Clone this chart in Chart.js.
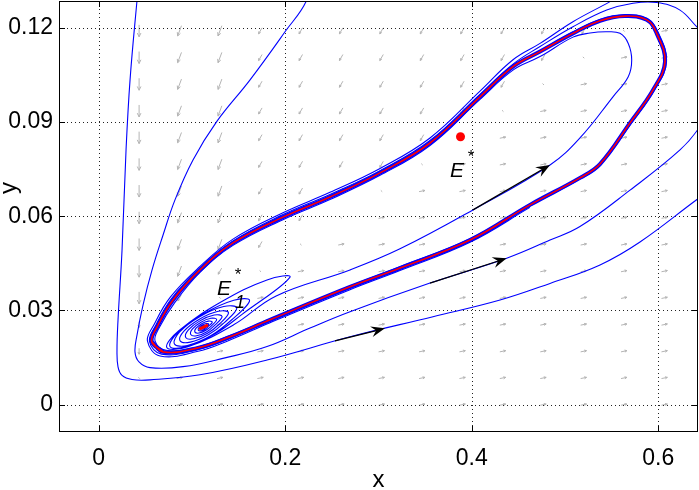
<!DOCTYPE html>
<html>
<head>
<meta charset="utf-8">
<script src="https://cdn.jsdelivr.net/npm/chart.js@4.4.0/dist/chart.umd.min.js"></script>
<style>html,body{margin:0;padding:0;background:#fff}</style>
</head>
<body>
<canvas id="phaseChart" width="699" height="490"></canvas>
<script>
// axes
const xTicks = [0, 0.2, 0.4, 0.6];
const xTickLabels = ['0', '0.2', '0.4', '0.6'];
const yTicks = [0, 0.03, 0.06, 0.09, 0.12];
const yTickLabels = ['0', '0.03', '0.06', '0.09', '0.12'];

// equilibria
const eqStar = [0.388, 0.0853];
const eqOne = [[0.1076, 0.0240], [0.1172, 0.0254]];

// red limit cycle (closed, first points repeated)
const limitCycle = [
  [0.0568,0.0201],[0.0690,0.0168],[0.1054,0.0180],[0.1408,0.0216],[0.1837,0.0270],[0.2695,0.0375],
  [0.3231,0.0435],[0.3982,0.0524],[0.4625,0.0636],[0.5161,0.0722],[0.5376,0.0766],[0.5698,0.0897],
  [0.5945,0.1002],[0.6073,0.1091],[0.5984,0.1182],[0.5877,0.1225],[0.5644,0.1237],[0.5376,0.1222],
  [0.5086,0.1182],[0.4733,0.1124],[0.4443,0.1076],[0.4089,0.0980],[0.3553,0.0833],[0.3017,0.0738],
  [0.2480,0.0661],[0.1976,0.0597],[0.1440,0.0515],[0.1086,0.0429],[0.0797,0.0333],[0.0625,0.0247],
  [0.0568,0.0201],[0.0690,0.0168]
];

// orbit leaving E1*: spiral turns
const spiral = [
  [0.1152,0.02515],[0.1138,0.02530],[0.1116,0.02508],[0.1099,0.02462],[0.1096,0.02419],[0.1110,0.02404],[0.1132,0.02426],[0.1149,0.02472],
  [0.1180,0.02562],[0.1154,0.02585],[0.1110,0.02539],[0.1075,0.02451],[0.1068,0.02372],[0.1095,0.02349],[0.1138,0.02395],[0.1173,0.02483],
  [0.1218,0.02628],[0.1176,0.02659],[0.1104,0.02579],[0.1044,0.02435],[0.1032,0.02310],[0.1075,0.02279],[0.1146,0.02359],[0.1206,0.02503],
  [0.1265,0.02710],[0.1203,0.02749],[0.1096,0.02626],[0.1006,0.02411],[0.0987,0.02232],[0.1049,0.02193],[0.1156,0.02316],[0.1246,0.02531],
  [0.1323,0.02808],[0.1238,0.02852],[0.1089,0.02675],[0.0962,0.02380],[0.0933,0.02140],[0.1018,0.02096],[0.1167,0.02273],[0.1294,0.02568],
  [0.1392,0.02927],[0.1282,0.02973],[0.1084,0.02730],[0.0914,0.02343],[0.0872,0.02037],[0.0982,0.01991],[0.1180,0.02234],[0.1350,0.02621],
  [0.1481,0.03077],[0.1341,0.03125],[0.1087,0.02809],[0.0868,0.02315],[0.0812,0.01933],[0.0951,0.01885],[0.1205,0.02201],[0.1424,0.02695],
  [0.1618,0.03314],[0.1449,0.03324],[0.1129,0.02900],[0.0845,0.02290],[0.0764,0.01852],[0.0932,0.01842],[0.1253,0.02266],[0.1537,0.02876],
  [0.2050,0.04053],[0.1805,0.03971],[0.1311,0.03267],[0.0859,0.02353],[0.0730,0.01820],[0.0957,0.01845],[0.1451,0.02549],[0.1903,0.03463]
];
// same orbit, outer laps inside the limit cycle
const innerOrbit = [
  [0.2695,0.0429],[0.3231,0.0496],[0.4014,0.0620],[0.4840,0.0763],[0.5161,0.0849],[0.5515,0.0980],
  [0.5679,0.1044],[0.5716,0.1097],[0.5679,0.1150],[0.5590,0.1182],[0.5448,0.1187],[0.5269,0.1183],
  [0.5086,0.1170],[0.4733,0.1108],[0.4443,0.1065],[0.4089,0.0972],[0.3553,0.0825],[0.3017,0.0730],
  [0.2480,0.0653],[0.1976,0.0589],[0.1440,0.0507],[0.1086,0.0421],[0.0813,0.0324],[0.0647,0.0244],
  [0.0604,0.0203],[0.0722,0.0173],[0.1054,0.0183],[0.1408,0.0220],[0.1837,0.0273],[0.2695,0.0378],
  [0.3231,0.0439],[0.3982,0.0528],[0.4625,0.0639]
];

// orbit entering from the top (second arrow)
const orbitE = [
  [0.2266,0.1368],[0.2231,0.1288],[0.1998,0.1187],[0.1623,0.1034],[0.1265,0.0901],[0.1011,0.0779],
  [0.0818,0.0652],[0.0690,0.0540],[0.0572,0.0429],[0.0475,0.0317],[0.0411,0.0222],[0.0389,0.0168],
  [0.0432,0.0136],[0.0550,0.0118],[0.0904,0.0121],[0.1354,0.0149],[0.1805,0.0185],[0.2266,0.0244],
  [0.2695,0.0296],[0.3553,0.0387],[0.4375,0.0466],[0.4840,0.0524],[0.5161,0.0567],[0.5698,0.0683],
  [0.6234,0.0811],[0.6438,0.0881],[0.6641,0.0986],[0.6684,0.1097],[0.6577,0.1167],[0.6438,0.1196],
  [0.6234,0.1256],[0.5984,0.1280],[0.5730,0.1278],[0.5448,0.1256],[0.5086,0.1203],[0.4733,0.1140],
  [0.4443,0.1084],[0.4089,0.0988],[0.3553,0.0841],[0.3017,0.0745],[0.2480,0.0669],[0.1976,0.0605],
  [0.1440,0.0521],[0.1086,0.0435],[0.0781,0.0338],[0.0609,0.0251],[0.0545,0.0201],[0.0673,0.0161],
  [0.1054,0.0174],[0.1408,0.0211],[0.1837,0.0265],[0.2695,0.0370],[0.3231,0.0431],[0.3982,0.0520],
  [0.4625,0.0632],[0.5161,0.0718],[0.5376,0.0762],[0.5714,0.0897],[0.5960,0.1002],[0.6089,0.1091],
  [0.5998,0.1186],[0.5880,0.1229],[0.5644,0.1241],[0.5376,0.1226],[0.5086,0.1186],[0.4733,0.1127],
  [0.4443,0.1079],[0.4089,0.0983]
];

// outermost orbit (first arrow)
const orbitD = [
  [0.0443,0.1384],[0.0411,0.1288],[0.0336,0.1034],[0.0293,0.0811],[0.0250,0.0492],[0.0207,0.0270],
  [0.0196,0.0174],[0.0207,0.0120],[0.0250,0.0093],[0.0357,0.0080],[0.0550,0.0079],[0.1086,0.0095],
  [0.1805,0.0142],[0.2695,0.0216],[0.3585,0.0280],[0.4304,0.0333],[0.4840,0.0386],[0.5376,0.0445],
  [0.5805,0.0518],[0.6438,0.0658],[0.6717,0.0715],[0.6931,0.0874],[0.6963,0.1129],[0.6770,0.1288],
  [0.6448,0.1368],[0.5912,0.1358],[0.5612,0.1307],[0.5483,0.1283],[0.5086,0.1219],[0.4733,0.1150],
  [0.4443,0.1098],[0.4089,0.0998],[0.3553,0.0849],[0.3017,0.0752],[0.2480,0.0676],[0.1976,0.0611],
  [0.1440,0.0527],[0.1086,0.0440],[0.0770,0.0343],[0.0588,0.0252],[0.0523,0.0202],[0.0657,0.0155],
  [0.1054,0.0169],[0.1408,0.0206],[0.1837,0.0261],[0.2695,0.0366],[0.3231,0.0427],[0.3982,0.0517],
  [0.4625,0.0628]
];

// black direction arrows: [tail, tip]
const flowArrows = [
  [[0.2534,0.0203],[0.3070,0.0243]],
  [[0.3553,0.0387],[0.4375,0.0466]],
  [[0.4014,0.0620],[0.4840,0.0763]]
];

// direction field grid (rows top to bottom); D/d down, L/l down-left, r right, . tiny
const fieldX = [0.0433,0.0867,0.1300,0.1733,0.2167,0.2600,0.3033,0.3467,0.3900,0.4333,0.4767,0.5200,0.5633,0.6067];
const fieldY = [0.1190,0.1105,0.1020,0.0935,0.0850,0.0765,0.0680,0.0595,0.0510,0.0425,0.0340,0.0255,0.0170,0.0085,0];
const fieldDir = [
  'DLLlllllllll.r',
  'DLLllllllll.rr',
  'DLLlllllll.rrr',
  'DLLllllll.rrrr',
  'DLLlllll.rrrrr',
  'DLLllll.rrrrrr',
  'DLLlll.rrrrrrr',
  'DLLll.rrrrrrrr',
  'DLLl.rrrrrrrrr',
  'DLl.rrrrrrrrrr',
  'Dl.rrrrrrrrrrr',
  'd.rrrrrrrrrrrr',
  'drrrrrrrrrrrrr',
  '.rrrrrrrrrrrrr',
  '.rrrrrrrrrrrrr'
];

const pointLabels = [
  {at: [0.3767, 0.0725], sub: ''},
  {at: [0.1269, 0.0349], sub: '1'}
];

const toPts = arr => arr.map(p => ({x: p[0], y: p[1]}));
const font = "'Liberation Sans', Arial, sans-serif";

function curve(data, color, width, order) {
  return {
    data: toPts(data), showLine: true, borderColor: color, borderWidth: width,
    pointRadius: 0, tension: 0.4, order: order, fill: false
  };
}

const arrowStyle = {
  D: [0, 1, 12], d: [0, 1, 6], L: [-0.35, 0.94, 11], l: [-0.5, 0.87, 7],
  r: [1, -0.2, 6], '.': [0.7, 0.7, 2]
};

function drawHead(ctx, x0, y0, x1, y1, len, half, back) {
  const a = Math.atan2(y1 - y0, x1 - x0), c = Math.cos(a), s = Math.sin(a);
  ctx.beginPath();
  ctx.moveTo(x1, y1);
  ctx.lineTo(x1 - len * c + half * s, y1 - len * s - half * c);
  ctx.lineTo(x1 - back * len * c, y1 - back * len * s);
  ctx.lineTo(x1 - len * c - half * s, y1 - len * s + half * c);
  ctx.closePath();
  ctx.fill();
}

const decor = {
  id: 'decor',
  beforeDatasetsDraw(chart) {
    const {ctx, chartArea: a, scales: {x, y}} = chart;
    ctx.save();
    // direction field
    ctx.strokeStyle = '#b4b4b4';
    ctx.lineWidth = 1;
    fieldY.forEach((fy, r) => {
      fieldX.forEach((fx, c) => {
        const st = arrowStyle[fieldDir[r][c]];
        if (!st) return;
        const n = Math.hypot(st[0], st[1]);
        const ux = st[0] / n, uy = st[1] / n, len = st[2];
        const cx = x.getPixelForValue(fx), cy = y.getPixelForValue(fy);
        const x0 = cx - ux * len / 2, y0 = cy - uy * len / 2;
        const x1 = cx + ux * len / 2, y1 = cy + uy * len / 2;
        ctx.beginPath();
        ctx.moveTo(x0, y0); ctx.lineTo(x1, y1);
        if (len > 3) {
          const h = Math.max(2.5, len * 0.35), ang = Math.atan2(uy, ux);
          ctx.moveTo(x1, y1);
          ctx.lineTo(x1 - h * Math.cos(ang - 0.45), y1 - h * Math.sin(ang - 0.45));
          ctx.moveTo(x1, y1);
          ctx.lineTo(x1 - h * Math.cos(ang + 0.45), y1 - h * Math.sin(ang + 0.45));
        }
        ctx.stroke();
      });
    });
    // dotted grid
    ctx.strokeStyle = '#222';
    ctx.setLineDash([1, 3]);
    ctx.beginPath();
    xTicks.forEach(v => {
      const p = Math.round(x.getPixelForValue(v)) + 0.5;
      ctx.moveTo(p, a.top); ctx.lineTo(p, a.bottom);
    });
    yTicks.forEach(v => {
      const p = Math.round(y.getPixelForValue(v)) + 0.5;
      ctx.moveTo(a.left, p); ctx.lineTo(a.right, p);
    });
    ctx.stroke();
    ctx.restore();
  },
  afterDatasetsDraw(chart) {
    const {ctx, chartArea: a, scales: {x, y}} = chart;
    ctx.save();
    // flow arrows
    ctx.strokeStyle = '#000';
    ctx.fillStyle = '#000';
    ctx.lineWidth = 1.3;
    flowArrows.forEach(([t, h]) => {
      const x0 = x.getPixelForValue(t[0]), y0 = y.getPixelForValue(t[1]);
      const x1 = x.getPixelForValue(h[0]), y1 = y.getPixelForValue(h[1]);
      const ang = Math.atan2(y1 - y0, x1 - x0);
      ctx.beginPath();
      ctx.moveTo(x0, y0);
      ctx.lineTo(x1 - 8 * Math.cos(ang), y1 - 8 * Math.sin(ang));
      ctx.stroke();
      drawHead(ctx, x0, y0, x1, y1, 14, 5.5, 0.65);
    });
    // frame and inward ticks
    ctx.lineWidth = 1;
    ctx.strokeRect(a.left + 0.5, a.top + 0.5, a.right - a.left - 1, a.bottom - a.top - 1);
    ctx.beginPath();
    xTicks.forEach(v => {
      const p = Math.round(x.getPixelForValue(v)) + 0.5;
      ctx.moveTo(p, a.bottom); ctx.lineTo(p, a.bottom - 6);
      ctx.moveTo(p, a.top); ctx.lineTo(p, a.top + 6);
    });
    yTicks.forEach(v => {
      const p = Math.round(y.getPixelForValue(v)) + 0.5;
      ctx.moveTo(a.left, p); ctx.lineTo(a.left + 6, p);
      ctx.moveTo(a.right, p); ctx.lineTo(a.right - 6, p);
    });
    ctx.stroke();
    // equilibrium labels
    pointLabels.forEach(l => {
      const px = x.getPixelForValue(l.at[0]), py = y.getPixelForValue(l.at[1]);
      ctx.textAlign = 'left';
      ctx.textBaseline = 'alphabetic';
      ctx.font = 'italic 21px ' + font;
      ctx.fillText('E', px, py);
      ctx.font = '17px ' + font;
      ctx.textAlign = 'center';
      ctx.fillText('*', px + 21, py - 15);
      if (l.sub) {
        ctx.font = 'italic 18px ' + font;
        ctx.textAlign = 'left';
        ctx.fillText(l.sub, px + 18, py + 13);
      }
    });
    // axis titles
    ctx.font = '24px ' + font;
    ctx.textAlign = 'center';
    ctx.fillText('x', (a.left + a.right) / 2, 487);
    ctx.translate(16, 188);
    ctx.rotate(-Math.PI / 2);
    ctx.fillText('y', 0, 0);
    ctx.restore();
  }
};

new Chart(document.getElementById('phaseChart'), {
  type: 'scatter',
  data: {
    datasets: [
      {data: toPts([eqStar]), pointRadius: 4.5, pointBackgroundColor: '#ff0000', pointBorderWidth: 0, showLine: false, order: 0},
      curve(limitCycle, '#ff0000', 1.6, 1),
      curve(eqOne, '#ff0000', 3, 1),
      curve(limitCycle, '#0000ff', 4, 2),
      curve(spiral.concat(innerOrbit), '#0000ff', 1.1, 3),
      curve(orbitE, '#0000ff', 1.1, 3),
      curve(orbitD, '#0000ff', 1.1, 3)
    ]
  },
  options: {
    responsive: false,
    animation: false,
    layout: {autoPadding: false, padding: {top: 1, right: 1, left: 0, bottom: 0}},
    elements: {line: {capBezierPoints: false}},
    plugins: {legend: {display: false}, tooltip: {enabled: false}},
    scales: {
      x: {
        type: 'linear', min: -0.0426, max: 0.6427,
        afterBuildTicks: s => { s.ticks = xTicks.map(v => ({value: v})); },
        afterFit: s => { s.height = 58; s.paddingLeft = 0; s.paddingRight = 0; },
        grid: {display: false, drawTicks: false},
        border: {display: false},
        ticks: {
          padding: 13, color: '#000', font: {family: font, size: 23},
          callback: (v, i) => xTickLabels[i]
        }
      },
      y: {
        type: 'linear', min: -0.0087, max: 0.1285,
        afterBuildTicks: s => { s.ticks = yTicks.map(v => ({value: v})); },
        afterFit: s => { s.width = 59; s.paddingTop = 0; s.paddingBottom = 0; },
        grid: {display: false, drawTicks: false},
        border: {display: false},
        ticks: {
          padding: 6, color: '#000', font: {family: font, size: 23},
          callback: (v, i) => yTickLabels[i]
        }
      }
    }
  },
  plugins: [decor]
});
</script>
</body>
</html>
